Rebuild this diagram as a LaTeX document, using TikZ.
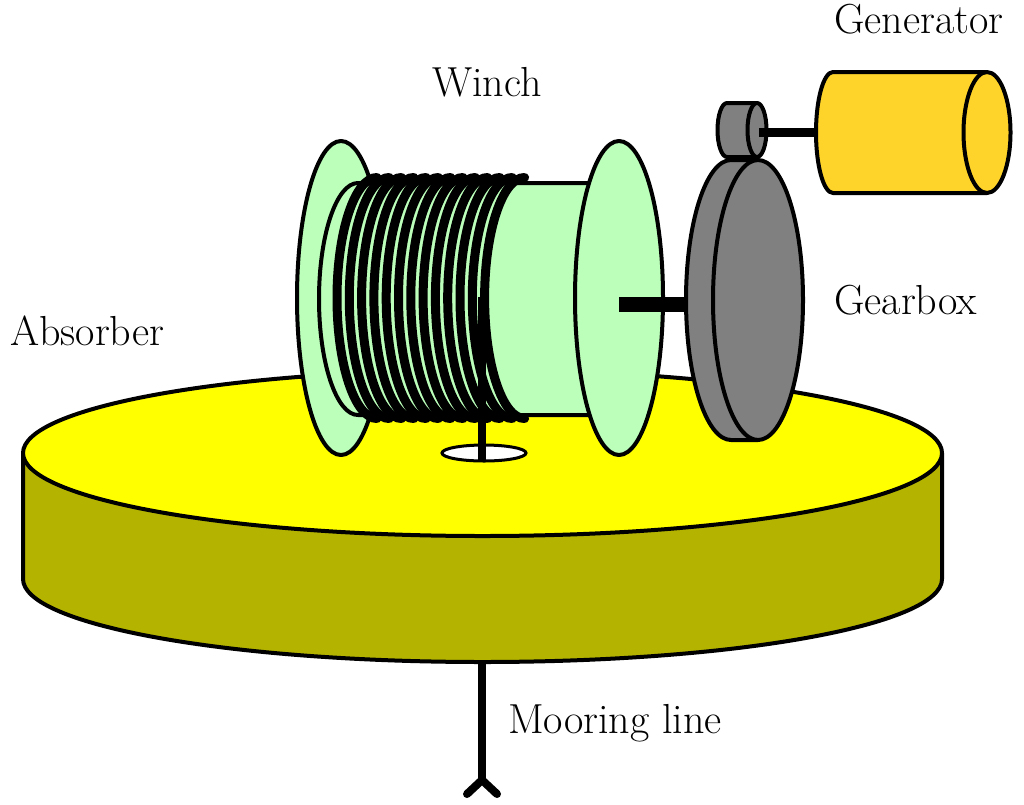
\documentclass[tikz,border=0pt]{standalone}
\usepackage{xcolor}
\definecolor{discTop}{HTML}{FFFF00}
\definecolor{discSide}{HTML}{B3B300}
\definecolor{spool}{HTML}{BBFFBB}
\definecolor{gear}{HTML}{808080}
\definecolor{gen}{HTML}{FFD42A}
\tikzset{
  part/.style={draw=black, line width=4pt, line join=round},
  coil/.style={draw=black, line width=9pt, line cap=round},
  rod/.style={draw=black, line width=#1},
  label/.style={anchor=base west, inner sep=0pt, font=\fontsize{42}{42}\selectfont},
}
\begin{document}
\begin{tikzpicture}[x=1pt, y=-1pt]
\useasboundingbox (0,0) rectangle (1024,804);

% absorber disc with its hole
\draw[part, fill=discSide] (23,453) -- (23,579)
  arc[start angle=180, delta angle=-180, x radius=459.5, y radius=83] -- (942,453) -- cycle;
\draw[part, fill=discTop] (482.5,453) ellipse [x radius=459.5, y radius=83];
\draw[draw=black, line width=3pt, fill=white] (484,453) ellipse [x radius=42, y radius=8];

% mooring line below the disc
\coordinate (M) at (482,780);
\draw[rod=8pt] (482,662) -- (M);
\draw[rod=8pt, line cap=round] (467,794) -- (M) -- (497,794);

% winch: back flange and drum
\draw[part, fill=spool] (341,298) ellipse [x radius=44, y radius=157];
\draw[part, fill=spool] (590,183) -- (358,183)
  arc[start angle=-90, delta angle=-180, x radius=39, y radius=116] -- (590,415);

% rope turns
\foreach \i in {0,...,12}{
  \draw[coil] ({377+12.3*\i},177.5)
    arc[start angle=-90, delta angle=-180, x radius=40, y radius=120.5];
}
\draw[rod=8pt] (482,297) -- (482,460);

% winch: front flange and shaft
\draw[part, fill=spool] (619,298) ellipse [x radius=44, y radius=157];
\draw[rod=15pt] (619,304) -- (690,304);

% gearbox
\draw[part, fill=gear] (727,103) -- (757,103) -- (757,157) -- (727,157)
  arc[start angle=90, delta angle=180, x radius=9.5, y radius=27] -- cycle;
\draw[part, fill=gear] (757,130) ellipse [x radius=9.5, y radius=27];
\draw[part, fill=gear] (731,160) -- (758,160) -- (758,440) -- (731,440)
  arc[start angle=90, delta angle=180, x radius=45, y radius=140] -- cycle;
\draw[part, fill=gear] (758,300) ellipse [x radius=45, y radius=140];

% generator
\draw[rod=9pt] (759,132) -- (818,132);
\draw[part, fill=gen] (987,72) -- (833,72)
  arc[start angle=-90, delta angle=-180, x radius=17, y radius=60.5] -- (987,193);
\draw[part, fill=gen] (987,132.5) ellipse [x radius=23.5, y radius=60.5];

% labels
\node[label] (generator) at (834,33) {Generator};
\node[label] (winch) at (432,96) {Winch};
\node[label] (gearbox) at (834,314) {Gearbox};
\node[label] (absorber) at (10,345) {Absorber};
\node[label] (mooring) at (508,733) {Mooring line};
\end{tikzpicture}
\end{document}
